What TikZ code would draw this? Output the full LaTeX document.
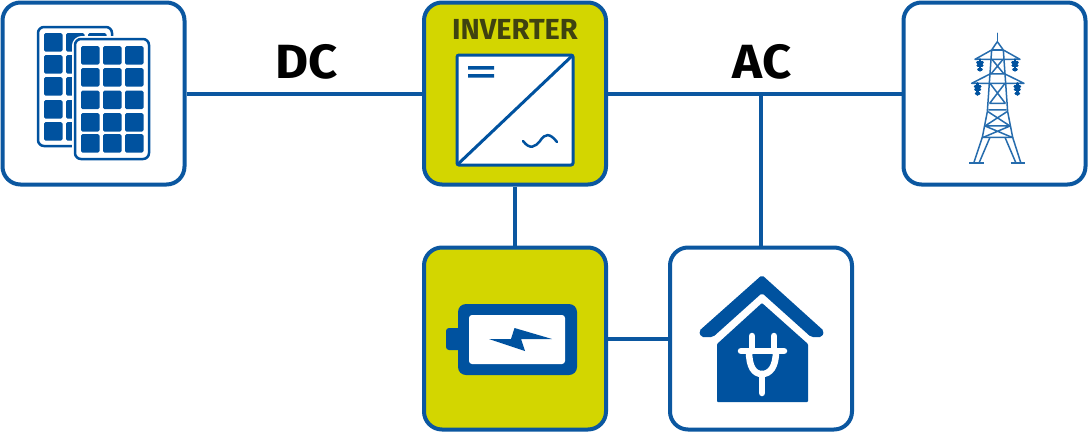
\documentclass[tikz,border=0pt]{standalone}
\usepackage{fontspec}
\newfontfamily\dcfont{Fira Sans}
\newfontfamily\invfont{Fira Sans}
\definecolor{linkblue}{HTML}{0B57A0}
\definecolor{iconblue}{HTML}{00529F}
\definecolor{battyellow}{HTML}{D3D600}
\definecolor{invtext}{HTML}{3F4210}
\tikzset{
  unitbox/.style={draw=linkblue,line width=4pt,rounded corners=18pt,minimum size=182pt,inner sep=0pt,fill=white},
  yellowbox/.style={unitbox,fill=battyellow},
  link/.style={draw=linkblue,line width=4pt},
  currlabel/.style={font=\dcfont\bfseries\fontsize{48}{48}\selectfont,text=black,inner sep=0pt,xscale=1.06},
  cell/.style={fill=iconblue,rounded corners=1.5pt},
  towerline/.style={draw=iconblue!85,line width=1.5pt,line join=round}
}
\begin{document}
\begin{tikzpicture}[x=1pt,y=-1pt]
\useasboundingbox (0,0) rectangle (1088,432);
\node[unitbox] (pv) at (93.5,93.5) {};
\node[yellowbox] (inv) at (515,93.5) {};
\node[unitbox] (grid) at (994.5,93.5) {};
\node[yellowbox] (batt) at (515,338.5) {};
\node[unitbox] (house) at (761,338.5) {};
\coordinate (acjoin) at (house |- inv);
\draw[link] (pv) -- (inv);
\draw[link] (inv) -- (grid);
\draw[link] (inv) -- (batt);
\draw[link] (batt) -- (house);
\draw[link] (house) -- (acjoin);
\node[currlabel] (dc) at (307,62) {DC};
\node[currlabel] (ac) at (762,62) {AC};
\node[font=\invfont\bfseries\fontsize{29}{29}\selectfont,text=invtext,inner sep=0pt] (invname) at (515,29) {INVERTER};
% panels
\draw[iconblue,line width=2.5pt,fill=white,rounded corners=6pt] (38,27) rectangle (112,146);
\foreach \x in {44,66,88}
  \foreach \y in {33,55,77,100,122}
    \fill[cell] (\x,\y) rectangle +(18.5,18.5);
\draw[white,line width=6pt,rounded corners=7pt] (75,39) rectangle (149,159);
\draw[iconblue,line width=2.5pt,fill=white,rounded corners=6pt] (75,39) rectangle (149,159);
\foreach \x in {81,103,125}
  \foreach \y in {46,68,90.5,113,134}
    \fill[cell] (\x,\y) rectangle +(18.5,18.5);
% inverter symbol
\draw[iconblue,line width=3pt,fill=white,rounded corners=2pt] (457,55) rectangle (573,165);
\draw[iconblue,line width=3pt] (457,165) -- (573,55);
\fill[iconblue] (468,66) rectangle (494,69.5) (468,74) rectangle (494,77.5);
\draw[iconblue,line width=2.5pt,line cap=round] (523,141) .. controls (530,150) and (535,147) .. (540,141) .. controls (545,133) and (550,133) .. (557,142);
% battery
\fill[iconblue,rounded corners=3pt] (446,328) rectangle (462,350);
\fill[iconblue,rounded corners=8pt] (458,304) rectangle (577,375);
\fill[white,rounded corners=3pt] (469,315) rectangle (565,364);
\fill[iconblue] (489,339) -- (511,339) -- (514.5,328) -- (552,339) -- (521,339) -- (525,351) -- cycle;
% house
\fill[iconblue,rounded corners=2pt] (762,275) -- (824,331) -- (822,337) -- (811,337) -- (762,293) -- (713,337) -- (701,337) -- (699,331) -- cycle;
\fill[iconblue,rounded corners=1pt] (762,303) -- (808,344) -- (808,402) -- (717,402) -- (717,344) -- cycle;
\draw[white,line width=6.5pt,line cap=round] (741,351) -- (784,351) (752,336) -- (752,351) (774,336) -- (774,351) (762,374) -- (762,393);
\draw[white,line width=6.5pt] (749,351) .. controls (749,367) and (754,374) .. (762,374) .. controls (770,374) and (776,367) .. (776,351);
% pylon
\begin{scope}[shift={(900,0)},x=0.3333pt,y=-0.3333pt]
\draw[towerline,line cap=round] (292,100) -- (292,125);
\draw[towerline] (292,125) -- (275,150) -- (225,178) -- (360,178) -- (310,150) -- (292,125);
\draw[towerline] (275,150) -- (310,150);
\draw[towerline] (275,150) -- (262,335) -- (247,412) -- (338,412) -- (323,335) -- (310,150);
\draw[towerline] (270,222) -- (215,250) -- (372,250) -- (315,222) -- (270,222);
\draw[towerline] (276,178) -- (312,222) (309,178) -- (273,222);
\draw[towerline] (270,250) -- (316,310) (315,250) -- (269,310) (268,310) -- (317,310) (265,330) -- (320,330);
\draw[towerline] (264,335) -- (330,378) (321,335) -- (255,378) (255,378) -- (330,378) (330,378) -- (250,412) (255,378) -- (336,412);
\draw[towerline] (247,412) -- (222,487) (270,412) -- (238,487) (338,412) -- (362,487) (315,412) -- (347,487);
\draw[towerline,line width=2.5pt] (208,489) -- (252,489) (333,489) -- (376,489);
\foreach \x/\y in {240/178,345/178,233/250,352/250}
  \draw[iconblue,line width=2.5pt,line cap=round] (\x-8,\y+10) -- (\x+8,\y+10) (\x-7,\y+19) -- (\x+7,\y+19) (\x-5,\y+30) -- (\x+5,\y+30) (\x,\y) -- (\x,\y+34);
\end{scope}
\end{tikzpicture}
\end{document}
